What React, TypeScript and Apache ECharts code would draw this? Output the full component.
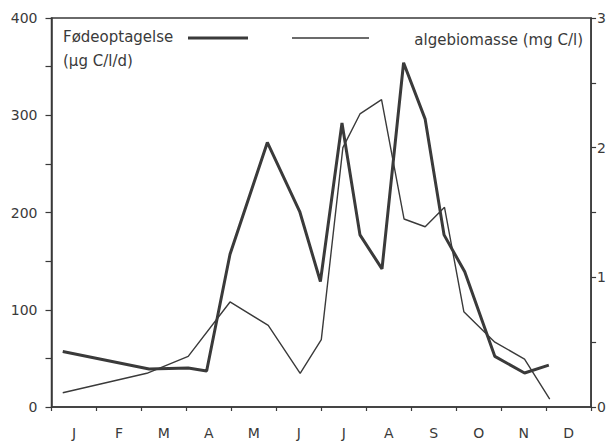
import React, { useEffect, useRef } from "react";
import * as echarts from "echarts";

const monthLabels = ["J", "F", "M", "A", "M", "J", "J", "A", "S", "O", "N", "D"];

// Fødeoptagelse (µg C/l/d), left axis; x in months from 1 January
const feedMonths = [0.25, 2.17, 3.04, 3.45, 3.97, 4.8, 5.52, 5.98, 6.46, 6.86, 7.35, 7.83, 8.31, 8.73, 9.19, 9.86, 10.52, 11.06];
const feedValues = [57, 39, 40, 37, 157, 272, 201, 129, 292, 177, 142, 354, 296, 177, 139, 52, 35, 43];

// algebiomasse (mg C/l), right axis
const algaeMonths = [0.25, 2.12, 3.04, 3.97, 4.82, 5.53, 6.0, 6.48, 6.86, 7.34, 7.84, 8.31, 8.74, 9.17, 9.86, 10.52, 11.08];
const algaeValues = [0.11, 0.26, 0.39, 0.81, 0.63, 0.26, 0.52, 2.0, 2.26, 2.37, 1.45, 1.39, 1.54, 0.735, 0.5, 0.37, 0.06];

const leftTicks = [0, 100, 200, 300, 400];
const rightTicks = [0, 1, 2, 3];

const INK = "#3a3a3a";
const FONT = "'DejaVu Sans'";

export default function App() {
  const ref = useRef<HTMLDivElement>(null);
  useEffect(() => {
    document.body.style.margin = "0";
    if (!ref.current) return;
    const chart = echarts.init(ref.current, null, { renderer: "svg" });
    const axisText = { color: INK, fontFamily: FONT, fontSize: 14 };
    chart.setOption({
      animation: false,
      backgroundColor: "#ffffff",
      grid: {
        left: 51.5,
        right: 17.5,
        top: 18,
        bottom: 37,
        show: true,
        borderColor: INK,
        borderWidth: 1.5,
        containLabel: false,
      },
      xAxis: [
        {
          type: "value",
          min: 0,
          max: 12,
          interval: 1,
          position: "bottom",
          axisLine: { show: true, lineStyle: { color: INK, width: 1.5 } },
          axisTick: { show: true, inside: false, length: 4, lineStyle: { color: INK, width: 1.2 } },
          axisLabel: { show: false },
          splitLine: { show: false },
        },
        {
          type: "category",
          data: monthLabels,
          position: "bottom",
          boundaryGap: true,
          axisLine: { show: false },
          axisTick: { show: false },
          axisLabel: { ...axisText, fontSize: 14, margin: 19 },
          splitLine: { show: false },
        },
      ],
      yAxis: [
        {
          type: "value",
          min: 0,
          max: 400,
          interval: 50,
          position: "left",
          axisLine: { show: true, lineStyle: { color: INK, width: 1.5 } },
          axisTick: { show: true, length: 6, lineStyle: { color: INK, width: 1.2 } },
          axisLabel: {
            ...axisText,
            margin: 14,
            formatter: (v: number) => (leftTicks.includes(v) ? String(v) : ""),
          },
          splitLine: { show: false },
        },
        {
          type: "value",
          min: 0,
          max: 3,
          interval: 0.5,
          position: "right",
          axisLine: { show: true, lineStyle: { color: INK, width: 1.5 } },
          axisTick: { show: true, length: 5, lineStyle: { color: INK, width: 1.2 } },
          axisLabel: {
            ...axisText,
            margin: 6,
            formatter: (v: number) => (rightTicks.includes(v) ? String(v) : ""),
          },
          splitLine: { show: false },
        },
      ],
      series: [
        {
          name: "Fødeoptagelse (µg C/l/d)",
          type: "line",
          xAxisIndex: 0,
          yAxisIndex: 0,
          data: feedMonths.map((m, i) => [m, feedValues[i]]),
          showSymbol: false,
          lineStyle: { color: INK, width: 3 },
          z: 3,
        },
        {
          name: "algebiomasse (mg C/l)",
          type: "line",
          xAxisIndex: 0,
          yAxisIndex: 1,
          data: algaeMonths.map((m, i) => [m, algaeValues[i]]),
          showSymbol: false,
          lineStyle: { color: INK, width: 1.4 },
          z: 2,
        },
      ],
      graphic: [
        {
          type: "text",
          left: 63,
          top: 29,
          style: { text: "Fødeoptagelse", fill: INK, font: `15px ${FONT}` },
        },
        {
          type: "text",
          left: 63,
          top: 53,
          style: { text: "(µg C/l/d)", fill: INK, font: `15px ${FONT}` },
        },
        {
          type: "line",
          shape: { x1: 188, y1: 38, x2: 248, y2: 38 },
          style: { stroke: INK, lineWidth: 3 },
        },
        {
          type: "line",
          shape: { x1: 292, y1: 38, x2: 369, y2: 38 },
          style: { stroke: INK, lineWidth: 1.4 },
        },
        {
          type: "text",
          right: 26,
          top: 32,
          style: { text: "algebiomasse (mg C/l)", fill: INK, font: `15px ${FONT}` },
        },
      ],
    });
    return () => chart.dispose();
  }, []);
  return <div ref={ref} style={{ width: 609, height: 444 }} />;
}
